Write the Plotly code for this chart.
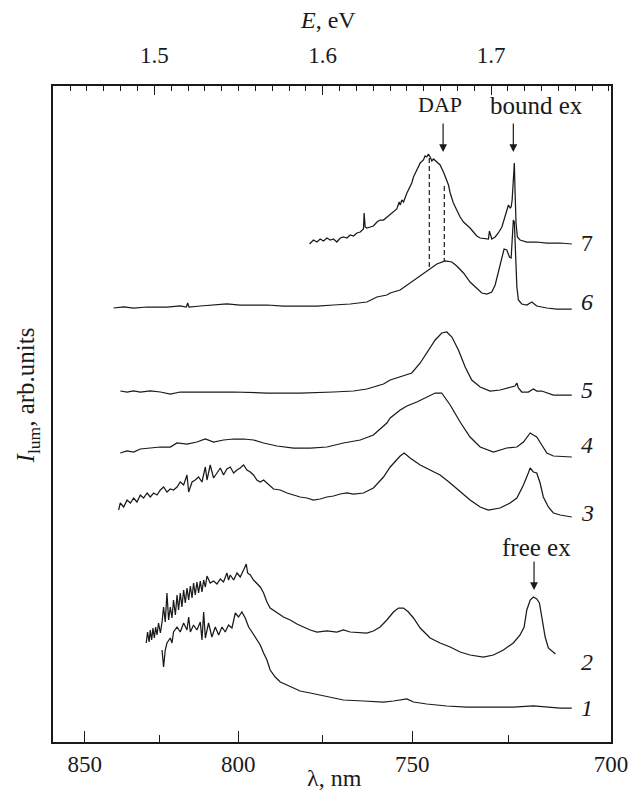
import plotly.graph_objects as go

HC = 1239.84  # eV*nm

# ---- data: photon energy (eV) and intensity (arb. units) ----
E7 = [1.5922,1.5945,1.5966,1.5985,1.6005,1.6025,1.6045,1.6064,1.6084,1.6104,1.6123,1.6144,1.6163,1.6183,
      1.6203,1.6223,1.6242,1.6246,1.6252,1.6262,1.6282,1.6301,1.6322,1.6341,1.6361,1.6381,1.6401,1.6420,
      1.6440,1.6454,1.6460,1.6470,1.6480,1.6500,1.6519,1.6529,1.6539,1.6559,1.6579,1.6598,1.6608,1.6618,
      1.6628,1.6638,1.6648,1.6658,1.6678,1.6697,1.6717,1.6737,1.6747,1.6757,1.6776,1.6796,1.6816,1.6836,
      1.6856,1.6875,1.6895,1.6915,1.6935,1.6964,1.6984,1.6990,1.7004,1.7024,1.7043,1.7064,1.7077,1.7093,
      1.7103,1.7113,1.7119,1.7125,1.7131,1.7135,1.7138,1.7142,1.7148,1.7156,1.7172,1.7212,1.7271,1.7331,
      1.7410,1.7479]
I7 = [49.8,50.2,50.0,50.3,50.1,50.4,50.2,50.3,50.0,50.4,50.5,50.4,50.7,50.6,
      50.9,51.0,51.3,52.9,51.5,51.4,51.5,51.6,52.0,52.2,52.2,52.5,52.7,53.0,
      53.3,54.0,53.7,54.2,54.0,54.9,55.5,55.9,56.5,57.2,57.9,58.2,58.6,58.5,
      58.8,58.5,58.1,58.3,58.0,57.7,57.0,56.2,55.7,54.9,53.9,53.2,52.5,52.0,
      51.7,51.4,51.0,50.6,50.4,50.3,50.3,51.1,50.3,50.5,50.9,51.5,52.2,53.2,
      53.7,53.4,53.5,54.2,55.9,57.9,57.9,55.2,51.9,50.5,50.2,50.0,50.0,49.9,
      49.9,49.8]

E6 = [1.4758,1.4818,1.4877,1.4957,1.5036,1.5075,1.5154,1.5190,1.5198,1.5206,1.5273,1.5352,1.5431,1.5510,
      1.5570,1.5669,1.5767,1.5866,1.5966,1.6064,1.6163,1.6262,1.6322,1.6381,1.6401,1.6460,1.6519,1.6579,
      1.6628,1.6678,1.6727,1.6767,1.6796,1.6836,1.6875,1.6915,1.6945,1.6975,1.7004,1.7024,1.7043,1.7064,
      1.7077,1.7093,1.7109,1.7119,1.7126,1.7132,1.7138,1.7144,1.7153,1.7162,1.7182,1.7212,1.7242,1.7271,
      1.7331,1.7390,1.7479]
I6 = [43.4,43.5,43.4,43.5,43.5,43.5,43.6,43.5,43.9,43.5,43.6,43.7,43.8,43.7,
      43.7,43.7,43.6,43.6,43.6,43.7,43.8,44.0,44.5,44.7,44.9,45.2,45.9,46.7,
      47.2,47.8,48.1,48.0,47.6,46.9,46.0,45.4,44.9,44.8,45.0,45.7,46.9,48.5,
      49.3,49.2,48.5,48.4,50.2,52.2,52.0,49.2,45.5,44.2,43.8,43.7,44.0,43.6,
      43.4,43.3,43.3]

E5 = [1.4798,1.4838,1.4877,1.4917,1.4976,1.5036,1.5095,1.5154,1.5273,1.5471,1.5669,1.5866,1.6064,1.6183,
      1.6262,1.6361,1.6401,1.6460,1.6529,1.6579,1.6628,1.6668,1.6707,1.6737,1.6767,1.6806,1.6846,1.6885,
      1.6935,1.6994,1.7053,1.7113,1.7142,1.7153,1.7162,1.7182,1.7221,1.7251,1.7271,1.7301,1.7331,1.7370,
      1.7479]
I5 = [35.1,35.0,35.1,35.0,35.1,35.0,34.8,35.0,35.0,35.0,34.9,34.9,35.0,35.1,
      35.3,35.8,36.2,36.5,36.9,37.9,39.2,40.2,40.9,41.0,40.5,39.2,37.5,36.2,
      35.5,35.1,35.2,35.5,35.6,35.9,35.4,35.0,35.0,35.3,35.1,35.1,34.9,34.7,
      34.7]

E4 = [1.4798,1.4838,1.4877,1.4917,1.4976,1.5036,1.5095,1.5135,1.5194,1.5253,1.5303,1.5352,1.5411,1.5471,
      1.5530,1.5589,1.5649,1.5728,1.5827,1.5926,1.6025,1.6123,1.6223,1.6301,1.6381,1.6401,1.6460,1.6500,
      1.6559,1.6618,1.6668,1.6707,1.6757,1.6816,1.6875,1.6935,1.7014,1.7093,1.7153,1.7192,1.7232,1.7251,
      1.7271,1.7301,1.7331,1.7370,1.7479]
I4 = [28.9,29.1,29.0,29.3,29.4,29.5,29.5,29.9,29.8,30.0,30.3,30.0,30.2,30.3,
      30.3,30.2,29.9,29.6,29.4,29.4,29.5,29.9,30.2,30.7,31.9,32.4,33.2,33.6,
      34.0,34.5,34.9,34.9,33.7,32.0,30.5,29.5,29.0,29.4,29.5,30.0,30.9,30.7,
      30.5,29.7,28.9,28.6,28.5]

E3 = [1.4788,1.4798,1.4818,1.4838,1.4858,1.4877,1.4897,1.4917,1.4936,1.4957,1.4976,1.4996,1.5016,1.5036,
      1.5055,1.5075,1.5095,1.5114,1.5135,1.5154,1.5174,1.5194,1.5204,1.5224,1.5243,1.5263,1.5283,1.5303,
      1.5313,1.5332,1.5352,1.5372,1.5392,1.5411,1.5431,1.5451,1.5471,1.5491,1.5510,1.5530,1.5550,1.5570,
      1.5589,1.5609,1.5629,1.5649,1.5669,1.5688,1.5708,1.5748,1.5788,1.5827,1.5866,1.5906,1.5945,1.5985,
      1.6025,1.6064,1.6104,1.6144,1.6183,1.6242,1.6301,1.6361,1.6401,1.6460,1.6484,1.6519,1.6579,1.6638,
      1.6697,1.6757,1.6816,1.6875,1.6935,1.6984,1.7053,1.7113,1.7153,1.7192,1.7221,1.7232,1.7251,1.7271,
      1.7291,1.7310,1.7340,1.7370,1.7410,1.7479]
I3 = [23.2,23.9,23.5,24.2,23.9,24.4,24.0,24.7,24.4,24.9,24.5,24.9,24.7,25.2,
      25.5,25.0,25.3,25.2,25.5,26.0,25.7,26.7,25.0,26.0,26.2,26.5,26.0,27.5,
      26.2,27.7,26.4,26.9,27.4,26.7,27.3,27.5,26.9,27.2,27.4,27.7,27.2,27.0,
      26.7,26.2,26.0,26.2,25.9,25.6,25.3,25.2,24.9,24.7,24.5,24.4,24.2,24.3,
      24.5,24.6,24.8,24.9,24.8,24.9,25.4,26.5,27.5,28.6,28.9,28.4,27.7,27.2,
      26.7,25.9,25.0,24.2,23.5,23.2,23.4,23.9,24.4,25.7,26.9,27.4,27.0,26.9,
      25.9,24.5,23.5,22.9,22.7,22.5]

E2 = [1.4952,1.4960,1.4969,1.4976,1.4984,1.4992,1.5000,1.5008,1.5016,1.5025,1.5036,1.5046,1.5055,1.5065,
      1.5075,1.5085,1.5095,1.5105,1.5114,1.5125,1.5135,1.5144,1.5154,1.5164,1.5174,1.5184,1.5194,1.5204,
      1.5214,1.5224,1.5233,1.5243,1.5253,1.5263,1.5273,1.5283,1.5293,1.5303,1.5313,1.5332,1.5352,1.5372,
      1.5392,1.5411,1.5431,1.5441,1.5451,1.5471,1.5491,1.5510,1.5530,1.5546,1.5554,1.5570,1.5589,1.5609,
      1.5629,1.5649,1.5669,1.5688,1.5728,1.5767,1.5807,1.5847,1.5886,1.5926,1.5966,1.6025,1.6084,1.6123,
      1.6163,1.6223,1.6262,1.6301,1.6341,1.6381,1.6420,1.6450,1.6480,1.6509,1.6539,1.6579,1.6638,1.6697,
      1.6757,1.6816,1.6875,1.6954,1.7014,1.7073,1.7132,1.7172,1.7196,1.7212,1.7232,1.7251,1.7271,1.7287,
      1.7301,1.7321,1.7340,1.7370,1.7382]
I2 = [9.9,11.0,10.0,11.2,10.2,11.4,10.4,11.5,10.7,11.9,10.9,12.0,13.5,12.0,
      14.9,12.2,13.5,12.4,14.2,12.7,14.7,13.2,14.9,13.5,15.2,13.9,15.4,14.2,
      15.6,14.4,15.9,14.7,16.0,14.9,16.1,15.0,16.2,15.5,16.6,15.9,16.1,15.8,
      16.3,16.0,16.9,16.2,16.7,16.2,16.9,16.5,17.2,17.8,16.9,16.7,16.2,15.9,
      15.5,14.9,14.0,13.4,12.9,12.5,12.2,11.8,11.5,11.2,11.0,11.1,11.0,11.2,
      11.0,10.9,10.9,11.1,11.5,12.2,13.0,13.4,13.4,13.0,12.4,11.4,10.4,9.9,
      9.5,9.0,8.7,8.5,8.7,9.2,9.9,10.7,11.5,13.2,14.2,14.5,14.3,13.9,
      12.5,10.5,9.4,8.9,8.8]

E1 = [1.5046,1.5055,1.5065,1.5075,1.5095,1.5105,1.5114,1.5135,1.5154,1.5174,1.5194,1.5204,1.5214,1.5233,
      1.5253,1.5273,1.5283,1.5293,1.5303,1.5322,1.5342,1.5362,1.5382,1.5402,1.5421,1.5441,1.5461,1.5481,
      1.5500,1.5520,1.5540,1.5560,1.5580,1.5599,1.5629,1.5649,1.5669,1.5688,1.5718,1.5748,1.5788,1.5827,
      1.5866,1.5926,1.5985,1.6045,1.6123,1.6242,1.6361,1.6420,1.6500,1.6539,1.6618,1.6737,1.6856,1.6975,
      1.7132,1.7251,1.7331,1.7410,1.7479]
I1 = [9.2,7.5,9.2,9.9,10.4,9.9,11.0,11.5,11.0,11.9,11.2,12.5,11.0,11.7,
      11.2,12.0,10.2,13.0,10.4,11.9,10.5,11.5,10.7,11.5,11.0,11.7,11.4,12.9,
      12.5,13.0,12.4,11.5,11.0,10.5,9.7,8.9,8.2,7.2,6.5,6.0,5.7,5.4,
      5.1,4.9,4.7,4.5,4.2,4.1,4.0,4.1,4.3,4.0,3.8,3.6,3.5,3.5,
      3.5,3.6,3.5,3.4,3.4]

curves = [(E1, I1), (E2, I2), (E3, I3), (E4, I4), (E5, I5), (E6, I6), (E7, I7)]
curve_labels = ["<i>1</i>", "<i>2</i>", "<i>3</i>", "<i>4</i>", "<i>5</i>", "<i>6</i>", "7"]
label_I = [3.4, 8.0, 22.9, 29.7, 35.2, 44.0, 49.9]
label_E = 1.757

# dashed DAP markers (E, I top, I bottom)
dash_E = [1.6633, 1.6722]
dash_top = [58.4, 55.6]
dash_bot = [47.2, 48.1]

# arrows: text, E of tip, I of tip, text position
arrow_text = ["DAP", "bound ex", "free ex"]
arrow_size = [22, 25, 25]
arrow_E = [1.6715, 1.7132, 1.7255]
arrow_I = [59.0, 59.0, 15.2]
text_E = [1.6697, 1.7267, 1.7267]
text_I = [63.8, 63.7, 19.5]

lam_major = [850, 800, 750, 700]
lam_minor = [825, 775, 725]
lam_range = [861.1, 700.0]

FONT = "Liberation Serif"
INK = "#1a1a1a"

fig = go.Figure()
for E, I in curves:
    fig.add_trace(go.Scatter(x=E, y=I, mode="lines", line=dict(color=INK, width=1.25),
                             hoverinfo="skip", showlegend=False))
for e, t, b in zip(dash_E, dash_top, dash_bot):
    fig.add_trace(go.Scatter(x=[e, e], y=[t, b], mode="lines",
                             line=dict(color=INK, width=1.2, dash="5px,3px"),
                             hoverinfo="skip", showlegend=False))
# empty trace on top axis
fig.add_trace(go.Scatter(x=[None], y=[None], xaxis="x2", yaxis="y", showlegend=False, hoverinfo="skip"))

xr = [HC / lam_range[0], HC / lam_range[1]]

fig.update_layout(
    width=631, height=796,
    margin=dict(l=53, r=20, t=86, b=54, autoexpand=False),
    paper_bgcolor="white", plot_bgcolor="white",
    font=dict(family=FONT, size=23, color=INK),
    xaxis=dict(range=xr, tickmode="array", tickvals=[HC / l for l in lam_major],
               ticktext=[str(l) for l in lam_major], ticks="inside", ticklen=11, tickwidth=1.3,
               tickcolor=INK, automargin=False,
               minor=dict(tickmode="array", tickvals=[HC / l for l in lam_minor], ticks="inside",
                          ticklen=7, tickwidth=1.3, tickcolor=INK),
               showline=True, linewidth=2, linecolor=INK, mirror=True, showgrid=False,
               zeroline=False, tickfont=dict(family=FONT, size=23), title=None),
    xaxis2=dict(range=xr, overlaying="x", side="top", tick0=1.5, dtick=0.1, tickformat=".1f",
                ticks="inside", ticklen=9, tickwidth=1.3, tickcolor=INK, ticklabelstandoff=12,
                automargin=False,
                minor=dict(dtick=0.01, tick0=1.5, ticks="inside", ticklen=5, tickwidth=1.1,
                           tickcolor=INK),
                showline=True, linewidth=2, linecolor=INK, showgrid=False, zeroline=False,
                tickfont=dict(family=FONT, size=23)),
    yaxis=dict(range=[0, 65.6], showticklabels=False, ticks="", showgrid=False, zeroline=False,
               automargin=False,
               showline=True, linewidth=2, linecolor=INK, mirror=True),
)

ann = []
for lab, yi in zip(curve_labels, label_I):
    ann.append(dict(x=label_E, y=yi, xref="x", yref="y", text=lab, showarrow=False,
                    font=dict(size=24), xanchor="center", yanchor="middle"))
for t, sz, ae, ai, te, ti in zip(arrow_text, arrow_size, arrow_E, arrow_I, text_E, text_I):
    ann.append(dict(x=ae, y=ai, xref="x", yref="y", text="", showarrow=True, ax=0, ay=-30,
                    arrowhead=2, arrowsize=1.3, arrowwidth=1.2, arrowcolor=INK))
    ann.append(dict(x=te, y=ti, xref="x", yref="y", text=t, showarrow=False,
                    font=dict(size=sz), xanchor="center", yanchor="middle"))
ann.append(dict(x=0.493, y=1.100, xref="paper", yref="paper", text="<i>E</i>, eV", showarrow=False,
                font=dict(size=24), xanchor="center", yanchor="middle"))
ann.append(dict(x=0.505, y=-0.055, xref="paper", yref="paper", text="λ, nm", showarrow=False,
                font=dict(size=24), xanchor="center", yanchor="middle"))
ann.append(dict(x=-0.044, y=0.529, xref="paper", yref="paper",
                text="<i>I</i><sub>lum</sub>, arb.units", textangle=-90, showarrow=False,
                font=dict(size=25), xanchor="center", yanchor="middle"))
fig.update_layout(annotations=ann)

fig.write_html("out.html", config={"displayModeBar": False},
               post_script="document.body.style.margin='0px';")
